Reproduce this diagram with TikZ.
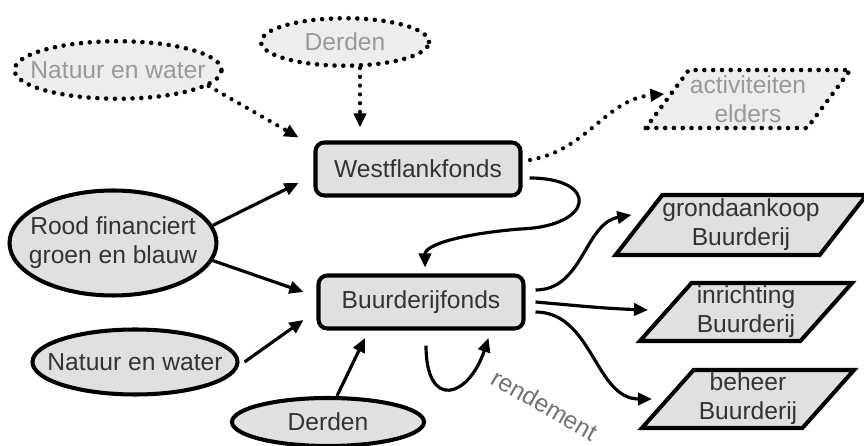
\documentclass[tikz,border=0pt]{standalone}
\usepackage{fontspec}
\setmainfont{Liberation Sans}
\usetikzlibrary{shapes.geometric,arrows.meta}

\begin{document}
\begin{tikzpicture}[
  lbl/.style={font=\fontsize{14}{16.5}\selectfont, align=center, inner sep=0pt},
  stip/.style={line width=2.6pt, line cap=round, dash pattern=on 0pt off 5pt},
  fonds/.style={lbl, draw, line width=2.3pt, rounded corners=5pt, fill=black!12, text=black!80,
    minimum width=4.1cm, minimum height=1.06cm},
  bron/.style={lbl, ellipse, inner xsep=-0.8cm, draw, line width=2.3pt, fill=black!12, text=black!80},
  extern/.style={lbl, ellipse, inner xsep=-0.8cm, draw, stip, fill=black!7, text=black!40},
  doel/.style={lbl, trapezium, trapezium left angle=48, trapezium right angle=132,
    trapezium stretches=true, draw, line width=2.3pt, fill=black!12, text=black!80,
    minimum width=4.25cm, minimum height=1.16cm},
  pijl/.style={line width=1.8pt, -{Triangle[length=8pt,width=7pt]}},
  stippijl/.style={stip, line width=2.4pt, -{Triangle[length=8pt,width=7pt]}}
]
\useasboundingbox (0,0) rectangle (17.28,8.92);

% buiten
\node[extern, minimum width=4.14cm, minimum height=1.15cm] (natuurx) at (2.36,7.52) {Natuur en water};
\node[extern, minimum width=3.36cm, minimum height=0.95cm] (derdenx) at (6.9,8.08) {Derden};
\node[doel, stip, fill=black!7, text=black!40, minimum width=4.1cm] (act) at (14.96,6.94) {activiteiten\\elders};

% fondsen
\node[fonds] (west) at (8.36,5.54) {Westflankfonds};
\node[fonds] (buur) at (8.42,2.88) {Buurderijfonds};

% bronnen
\node[bron, minimum width=4.14cm, minimum height=2.1cm] (rood) at (2.26,4.06) {Rood financiert\\groen en blauw};
\node[bron, minimum width=4.1cm, minimum height=1.3cm] (natuur) at (2.7,1.68) {Natuur en water};
\node[bron, minimum width=3.84cm, minimum height=0.96cm] (derden) at (6.56,0.48) {Derden};

% bestedingen
\node[doel, minimum width=4.84cm, minimum height=1.2cm] (grond) at (14.82,4.42) {grondaankoop\\Buurderij};
\node[doel] (inr) at (14.92,2.68) {inrichting\\Buurderij};
\node[doel] (beh) at (14.96,0.94) {beheer\\Buurderij};

\node[lbl, rotate=-30, text=black!55] (rend) at (10.9,0.82) {rendement};

% stromen
\draw[stippijl] (natuurx.-10) -- ([xshift=-0.3cm,yshift=0.06cm]west.north west);
\draw[stippijl] ([xshift=0.3cm]derdenx.south) -- ([xshift=0.3cm,yshift=0.26cm]derdenx.south |- west.north);
\draw[stippijl] ([xshift=0.15cm,yshift=0.18cm]west.east) to[out=10,in=185] ([yshift=0.1cm]act.west);

\draw[pijl] (rood.10) -- ([xshift=-0.3cm,yshift=-0.28cm]west.west);
\draw[pijl] (rood.-10) -- ([xshift=-0.26cm,yshift=0.2cm]buur.west);
\draw[pijl] ([xshift=0.1cm]natuur.east) -- ([xshift=-0.26cm,yshift=-0.36cm]buur.west);
\draw[pijl] ([xshift=0.18cm]derden.north) -- ([xshift=0.97cm,yshift=-0.15cm]buur.south west);

\coordinate (bocht) at (10.4,4.34);
\draw[pijl] ([xshift=0.14cm,yshift=-0.18cm]west.east) .. controls +(1.4,0) and +(1.5,0.05) .. (bocht)
  .. controls +(-1.2,-0.1) and +(0,0.45) .. ([xshift=0.08cm,yshift=0.12cm]buur.north);

\draw[pijl] ([xshift=0.2cm,yshift=0.24cm]buur.east) to[out=0,in=190] ([xshift=-0.1cm,yshift=0.2cm]grond.west);
\draw[pijl] ([xshift=0.2cm]buur.east) to[out=-5,in=178] ([xshift=-0.3cm,yshift=0.04cm]inr.west);
\draw[pijl] ([xshift=0.2cm,yshift=-0.2cm]buur.east) to[out=0,in=180] ([xshift=-0.26cm]beh.west);
\draw[pijl] ([xshift=0.1cm,yshift=-0.3cm]buur.south) .. controls +(0,-1.3) and +(-0.4,-1.2) .. ([xshift=1.35cm,yshift=-0.15cm]buur.south);

\end{tikzpicture}
\end{document}
